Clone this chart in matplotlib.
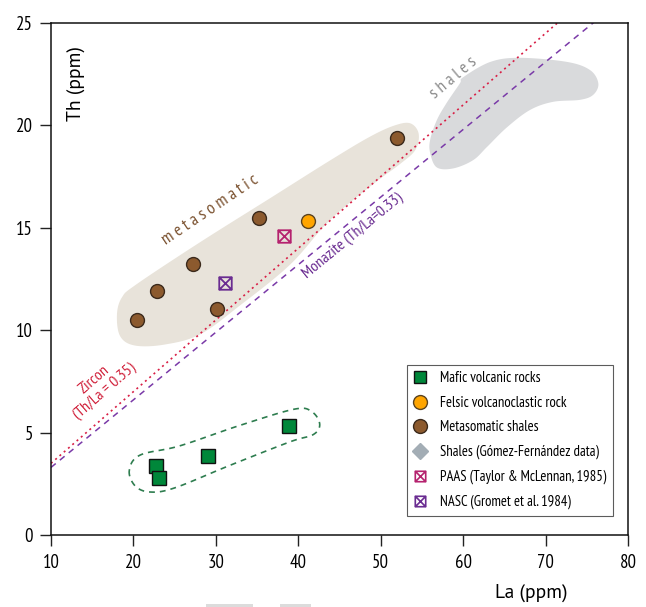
import numpy as np
import matplotlib
matplotlib.use("Agg")
import matplotlib.pyplot as plt
from matplotlib.path import Path
from matplotlib.patches import Polygon, Rectangle
from matplotlib.lines import Line2D

plt.rcParams['font.family'] = ['PT Sans Narrow', 'DejaVu Sans']
LABEL_FONT = ['PT Sans', 'DejaVu Sans']

# ---------------- data ----------------
meta_la = [20.4, 22.9, 27.2, 30.1, 35.2, 52.0]
meta_th = [10.5, 11.9, 13.25, 11.05, 15.5, 19.4]
felsic_la = [41.2]
felsic_th = [15.35]
mafic_la = [22.7, 23.1, 29.1, 38.9]
mafic_th = [3.35, 2.8, 3.85, 5.3]
paas_la = [38.3]
paas_th = [14.6]
nasc_la = [31.1]
nasc_th = [12.3]

zircon_ratio = 0.35
monazite_ratio = 0.33

# field outlines (data units)
meta_field_la = [18.0, 18.6, 20.4, 28.1, 36.6, 43.9, 48.7, 51.7, 53.6, 54.6, 54.2, 52.3,
                 49.3, 43.9, 39.0, 32.9, 28.1, 23.8, 20.2, 18.4]
meta_field_th = [10.75, 11.6, 12.25, 14.3, 16.45, 18.3, 19.45, 20.0, 20.1, 19.6, 18.8, 18.1,
                 17.2, 15.4, 13.2, 11.2, 9.8, 9.3, 9.25, 9.7]
shale_field_la = [60.0, 63.3, 66.9, 72.6, 75.4, 76.4, 75.8, 74.2, 70.9, 68.1, 65.3, 62.9,
                  61.2, 58.8, 56.8, 56.0, 56.0, 56.8, 58.0, 59.6]
shale_field_th = [22.35, 23.1, 23.3, 23.1, 22.7, 22.05, 21.5, 21.25, 21.15, 20.75, 19.9, 18.95,
                  18.3, 17.9, 17.95, 18.65, 19.3, 20.25, 21.1, 22.05]
mafic_field_la = [19.5, 20.2, 22.0, 25.0, 31.7, 39.0, 41.8, 42.6, 41.7, 39.6, 32.9, 25.6, 20.8]
mafic_field_th = [3.15, 2.4, 2.1, 2.3, 3.4, 4.55, 4.9, 5.4, 6.0, 6.15, 5.35, 4.35, 3.9]

legend_labels = ['Mafic volcanic rocks', 'Felsic volcanoclastic rock', 'Metasomatic shales',
                 'Shales (Gómez-Fernández data)', 'PAAS (Taylor & McLennan, 1985)',
                 'NASC (Gromet et al. 1984)']

# ---------------- helpers ----------------
def smooth_closed(xs, ys, n=24):
    P = np.column_stack([xs, ys]).astype(float)
    N = len(P)
    out = []
    t = np.linspace(0, 1, n, endpoint=False)[:, None]
    for i in range(N):
        p0, p1, p2, p3 = P[i - 1], P[i], P[(i + 1) % N], P[(i + 2) % N]
        seg = 0.5 * ((2 * p1) + (-p0 + p2) * t + (2 * p0 - 5 * p1 + 4 * p2 - p3) * t ** 2
                     + (-p0 + 3 * p1 - 3 * p2 + p3) * t ** 3)
        out.append(seg)
    return np.vstack(out)

boxx = Path([(-1, -1), (1, -1), (1, 1), (-1, 1), (-1, -1), (-1, -1), (1, 1), (-1, 1), (1, -1)],
            [Path.MOVETO, Path.LINETO, Path.LINETO, Path.LINETO, Path.CLOSEPOLY,
             Path.MOVETO, Path.LINETO, Path.MOVETO, Path.LINETO])

# ---------------- figure ----------------
fig = plt.figure(figsize=(6.46, 6.07), dpi=100)
ax = fig.add_axes([51 / 646, 1 - 535 / 607, 577 / 646, 512 / 607])

c_meta_field = '#e8e3da'
c_shale_field = '#d9dadc'
ax.add_patch(Polygon(smooth_closed(meta_field_la, meta_field_th), closed=True,
                     facecolor=c_meta_field, edgecolor='none', zorder=1))
ax.add_patch(Polygon(smooth_closed(shale_field_la, shale_field_th), closed=True,
                     facecolor=c_shale_field, edgecolor='none', zorder=1))
ax.add_patch(Polygon(smooth_closed(mafic_field_la, mafic_field_th), closed=True,
                     facecolor='none', edgecolor='#2e7d4f', linewidth=1.2,
                     linestyle=(0, (3.5, 3)), zorder=2))

la_line = np.array([10, 80])
ax.plot(la_line, zircon_ratio * la_line, color='#d81e45', linewidth=1.2,
        linestyle=(0, (1.2, 2.2)), zorder=2)
ax.plot(la_line, monazite_ratio * la_line, color='#7a3aa8', linewidth=1.1,
        linestyle=(0, (4, 3.5)), zorder=2)

c_green = '#00873a'
c_orange = '#ffa500'
c_brown = '#8c5a2e'
c_gray = '#a3adb5'
c_paas = '#b5226e'
c_nasc = '#6a2c91'

ax.plot(mafic_la, mafic_th, linestyle='none', marker='s', markersize=9.5,
        markerfacecolor=c_green, markeredgecolor='#111111', markeredgewidth=1.0, zorder=4)
ax.plot(meta_la, meta_th, linestyle='none', marker='o', markersize=10,
        markerfacecolor=c_brown, markeredgecolor='#3b2a1c', markeredgewidth=1.0, zorder=4)
ax.plot(felsic_la, felsic_th, linestyle='none', marker='o', markersize=10,
        markerfacecolor=c_orange, markeredgecolor='#5a4320', markeredgewidth=1.0, zorder=4)
ax.plot(paas_la, paas_th, linestyle='none', marker=boxx, markersize=9,
        markerfacecolor='none', markeredgecolor=c_paas, markeredgewidth=1.3, zorder=4)
ax.plot(nasc_la, nasc_th, linestyle='none', marker=boxx, markersize=9,
        markerfacecolor='none', markeredgecolor=c_nasc, markeredgewidth=1.3, zorder=4)

# text annotations
ax.text(29.3, 15.85, 'm e t a s o m a t i c', color='#7b5230', fontsize=12.5,
        rotation=34, ha='center', va='center', zorder=3)
ax.text(58.8, 22.3, 's h a l e s', color='#8a8a8a', fontsize=12.5,
        rotation=40, ha='center', va='center', zorder=3)
ax.text(15.9, 7.3, 'Zircon\n(Th/La = 0.35)', color='#d0203a', fontsize=11.5,
        rotation=41, ha='center', va='center', multialignment='center', zorder=3,
        linespacing=1.15)
ax.text(46.6, 14.6, 'Monazite (Th/La=0.33)', color='#6a2c91', fontsize=11.5,
        rotation=39.5, ha='center', va='center', zorder=3)
ax.text(13.0, 20.2, 'Th (ppm)', fontsize=14, rotation=90, ha='center', va='bottom',
        family=LABEL_FONT)
fig.text(531 / 646, 1 - 593 / 607, 'La (ppm)', fontsize=14, ha='center', va='center',
         family=LABEL_FONT)

ax.set_xlim(10, 80)
ax.set_ylim(0, 25)
ax.set_xticks(np.arange(10, 81, 10))
ax.set_yticks(np.arange(0, 26, 5))
ax.tick_params(direction='out', length=8, width=1, labelsize=13.5, color='#222222')
ax.tick_params(axis='x', pad=6)
ax.tick_params(axis='y', pad=5)
for s in ax.spines.values():
    s.set_linewidth(1.1)
    s.set_color('#111111')

handles = [
    Line2D([], [], linestyle='none', marker='s', markersize=8.5, markerfacecolor=c_green,
           markeredgecolor='#111111'),
    Line2D([], [], linestyle='none', marker='o', markersize=10, markerfacecolor=c_orange,
           markeredgecolor='#5a4320'),
    Line2D([], [], linestyle='none', marker='o', markersize=10, markerfacecolor=c_brown,
           markeredgecolor='#3b2a1c'),
    Line2D([], [], linestyle='none', marker='D', markersize=8.5, markerfacecolor=c_gray,
           markeredgecolor=c_gray),
    Line2D([], [], linestyle='none', marker=boxx, markersize=7.5, markerfacecolor='none',
           markeredgecolor=c_paas, markeredgewidth=1.2),
    Line2D([], [], linestyle='none', marker=boxx, markersize=7.5, markerfacecolor='none',
           markeredgecolor=c_nasc, markeredgewidth=1.2),
]
leg = ax.legend(handles, legend_labels, loc='lower right', bbox_to_anchor=(0.974, 0.037),
                fontsize=10.5, frameon=True, fancybox=False, edgecolor='#333333',
                labelspacing=0.72, handletextpad=1.0, borderpad=0.45, handlelength=0.8,
                borderaxespad=0)
leg.get_frame().set_linewidth(0.8)
leg.set_zorder(5)

# faint artifacts at the bottom edge
fig.patches.append(Rectangle((206 / 646, 0), 47 / 646, 3 / 607, transform=fig.transFigure,
                             facecolor='#dcdcdc', edgecolor='none'))
fig.patches.append(Rectangle((280 / 646, 0), 31 / 646, 3 / 607, transform=fig.transFigure,
                             facecolor='#dcdcdc', edgecolor='none'))

fig.savefig('out.png', dpi=100, facecolor='white')
